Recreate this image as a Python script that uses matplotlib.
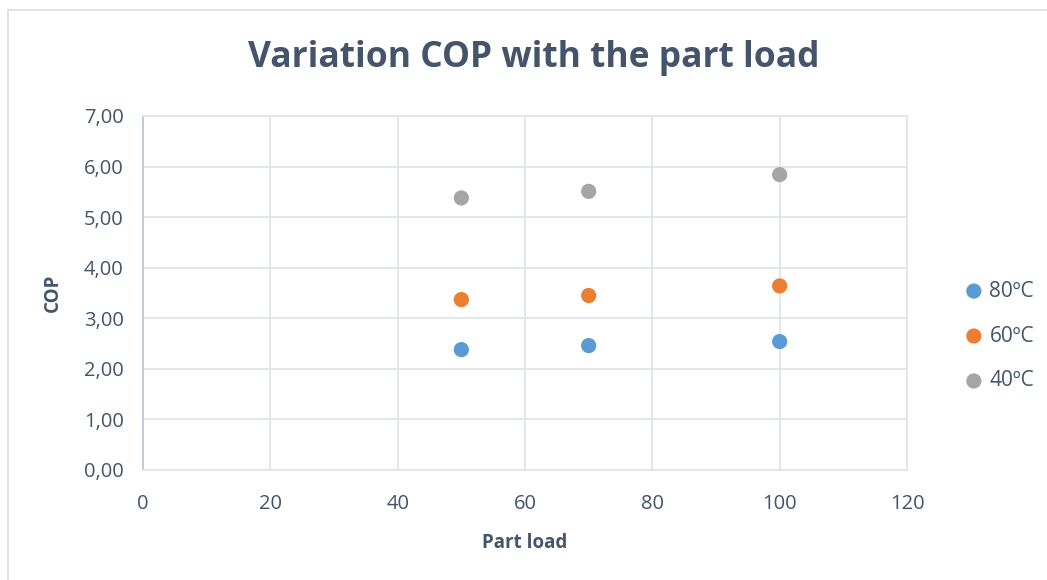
import matplotlib.pyplot as plt
from matplotlib.patches import Rectangle

# data
part_load = [50, 70, 100]
cop_80 = [2.38, 2.46, 2.54]
cop_60 = [3.37, 3.45, 3.64]
cop_40 = [5.38, 5.51, 5.84]
series_names = ['80ºC', '60ºC', '40ºC']
x_ticks = [0, 20, 40, 60, 80, 100, 120]
y_ticks = [0, 1, 2, 3, 4, 5, 6, 7]

text_col = '#44546A'
grid_col = '#E1E5EB'

plt.rcParams['font.family'] = ['Open Sans', 'DejaVu Sans']

fig = plt.figure(figsize=(10.47, 5.8), dpi=100)
ax = fig.add_axes([143 / 1047, 1 - 470 / 580, (907 - 143) / 1047, (470 - 116) / 580])

# chart border
fig.patches.append(Rectangle((8 / 1047, -0.05), 1.1, 1 - 10 / 580 + 0.05,
                             transform=fig.transFigure, fill=False,
                             edgecolor='#D9DDE3', linewidth=1.2))

colors = ['#5B9BD5', '#ED7D31', '#A5A5A5']
for vals, name, c in zip([cop_80, cop_60, cop_40], series_names, colors):
    ax.scatter(part_load, vals, s=120, color=c, label=name, zorder=3,
               edgecolors='none')

ax.set_xlim(0, 120)
ax.set_ylim(0, 7)
ax.set_xticks(x_ticks)
ax.set_yticks(y_ticks)
ax.set_yticklabels([f'{v:.2f}'.replace('.', ',') for v in y_ticks])
ax.grid(True, color=grid_col, linewidth=1.3)
ax.set_axisbelow(True)
ax.tick_params(length=0, labelsize=14.5, colors=text_col)
ax.tick_params(axis='x', pad=17)
ax.tick_params(axis='y', pad=14)

for side in ['top', 'right', 'bottom']:
    ax.spines[side].set_color(grid_col)
    ax.spines[side].set_linewidth(1.3)
ax.spines['left'].set_color('#BFC7D5')
ax.spines['left'].set_linewidth(1.3)

ax.set_xlabel('Part load', fontsize=13.5, fontweight='bold', color=text_col,
              labelpad=14)
ax.set_ylabel('COP', fontsize=13.5, fontweight='bold', color=text_col,
              labelpad=15)

fig.text(534 / 1047, 1 - 58 / 580, 'Variation COP with the part load',
         fontsize=25.5, fontweight='bold', color=text_col,
         ha='center', va='center')

ax.legend(loc='center left', bbox_to_anchor=(953 / 1047, 1 - 336 / 580),
          bbox_transform=fig.transFigure, frameon=False, borderpad=0,
          fontsize=15, labelcolor=text_col, handlelength=1.0,
          handletextpad=0.25, labelspacing=1.15, markerscale=1.0)

fig.savefig('out.png', dpi=100)
